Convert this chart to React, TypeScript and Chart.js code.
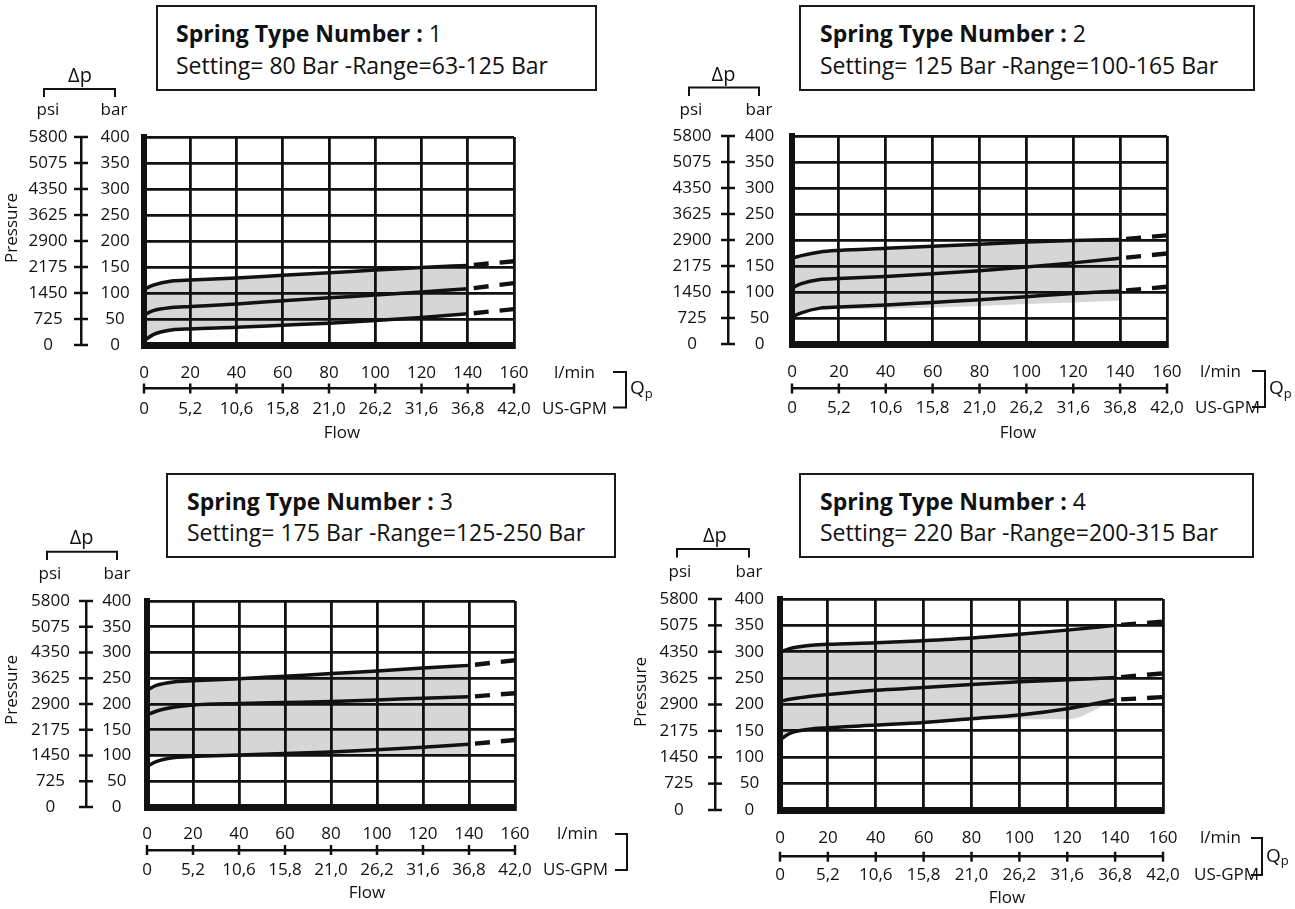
import React, { useEffect, useRef } from 'react';
import { Chart, registerables } from 'chart.js';

Chart.register(...registerables);

const FONT = "'Open Sans', 'DejaVu Sans', sans-serif";
const INK = '#111111';
const BAND = '#d6d6d6';

// ---------------- DATA ----------------
// flow positions (l/min) of the solid curves and of the dashed extensions
const flowSolid = [0, 4, 12, 20, 40, 60, 80, 100, 120, 140];
const flowDashed = [140, 160];

// tick labels
const lpmTicks = ['0', '20', '40', '60', '80', '100', '120', '140', '160'];
const gpmTicks = ['0', '5,2', '10,6', '15,8', '21,0', '26,2', '31,6', '36,8', '42,0'];
const barTicks = ['0', '50', '100', '150', '200', '250', '300', '350', '400'];
const psiTicks = ['0', '725', '1450', '2175', '2900', '3625', '4350', '5075', '5800'];

// other texts
const titleLead = 'Spring Type Number :';
const springNumbers = ['1', '2', '3', '4'];
const springSettings = [
  'Setting= 80 Bar -Range=63-125 Bar',
  'Setting= 125 Bar -Range=100-165 Bar',
  'Setting= 175 Bar -Range=125-250 Bar',
  'Setting= 220 Bar -Range=200-315 Bar',
];
const deltaLabel = 'Δp';
const psiLabel = 'psi';
const barLabel = 'bar';
const lpmLabel = 'l/min';
const gpmLabel = 'US-GPM';
const flowLabel = 'Flow';
const pressureLabel = 'Pressure';

// Spring 1 (bar)
const spring1Upper = [107, 115, 123, 125, 129, 134, 139, 144, 149, 153];
const spring1Middle = [58, 66, 72, 74, 79, 85, 91, 96, 102, 108];
const spring1Lower = [8, 20, 29, 31, 34, 38, 42, 47, 53, 60];
const spring1Floor = [8, 20, 29, 31, 34, 38, 42, 47, 53, 60];
const spring1UpperDash = [153, 161];
const spring1MiddleDash = [108, 119];
const spring1LowerDash = [60, 69];

// Spring 2 (bar)
const spring2Upper = [165, 170, 177, 180, 184, 188, 192, 196, 199, 201];
const spring2Middle = [108, 116, 124, 126, 130, 135, 141, 148, 156, 165];
const spring2Lower = [52, 60, 69, 71, 75, 80, 85, 91, 97, 102];
const spring2Floor = [52, 60, 66, 67, 68, 70, 73, 77, 80, 83];
const spring2UpperDash = [201, 209];
const spring2MiddleDash = [165, 174];
const spring2LowerDash = [102, 110];

// Spring 3 (bar)
const spring3Upper = [227, 236, 243, 245, 249, 254, 259, 264, 270, 275];
const spring3Middle = [179, 186, 194, 198, 201, 203, 205, 208, 211, 214];
const spring3Lower = [79, 88, 96, 98, 101, 104, 107, 111, 116, 122];
const spring3Floor = [100, 100, 100, 100, 100, 100, 100, 100, 100, 100];
const spring3UpperDash = [275, 285];
const spring3MiddleDash = [214, 221];
const spring3LowerDash = [122, 130];

// Spring 4 (bar)
const spring4Upper = [299, 306, 312, 314, 317, 321, 326, 333, 341, 350];
const spring4Middle = [206, 210, 215, 219, 227, 232, 238, 243, 247, 251];
const spring4Lower = [133, 145, 153, 156, 161, 166, 173, 180, 192, 209];
const spring4Floor = [133, 145, 153, 156, 161, 166, 172, 172, 172, 209];
const spring4UpperDash = [350, 357];
const spring4MiddleDash = [251, 259];
const spring4LowerDash = [209, 214];

const springs = [
  { upper: spring1Upper, middle: spring1Middle, lower: spring1Lower, floor: spring1Floor, dashes: [spring1UpperDash, spring1MiddleDash, spring1LowerDash] },
  { upper: spring2Upper, middle: spring2Middle, lower: spring2Lower, floor: spring2Floor, dashes: [spring2UpperDash, spring2MiddleDash, spring2LowerDash] },
  { upper: spring3Upper, middle: spring3Middle, lower: spring3Lower, floor: spring3Floor, dashes: [spring3UpperDash, spring3MiddleDash, spring3LowerDash] },
  { upper: spring4Upper, middle: spring4Middle, lower: spring4Lower, floor: spring4Floor, dashes: [spring4UpperDash, spring4MiddleDash, spring4LowerDash] },
];

// ---------------- LAYOUT (page coordinates) ----------------
const panels = [
  {
    canvas: { left: 0, top: 0, width: 660, height: 460 },
    area: { left: 144, right: 514, top: 137, bottom: 345 },
    psiLineX: 81, psiPad: 13.5, barPad: 14.4,
    x2LineY: 388.5, xPad: 17.5, x2Pad: 10.6,
    header: { dpX: 80, dpY: 76, brL: 44, brR: 115, brY: 89, brB: 97, psiX: 48, barX: 114, unitY: 110 },
    units: { lpmX: 554, lpmY: 372.7, gpmX: 542, gpmY: 409, brL: 613, brR: 626, brT: 372, brB: 407.5, qX: 630, qY: 389 },
    flow: { x: 342, y: 433 }, pressure: { x: 12, y: 228 },
    box: { left: 156, top: 5, width: 441, height: 86, textLeft: 176, line1: 34, line2: 65.7 },
  },
  {
    canvas: { left: 640, top: 0, width: 655, height: 460 },
    area: { left: 792, right: 1167, top: 136, bottom: 344 },
    psiLineX: 728, psiPad: 16.5, barPad: 17.9,
    x2LineY: 388.5, xPad: 17.5, x2Pad: 9.6,
    header: { dpX: 723.5, dpY: 75, brL: 689, brR: 759, brY: 87.5, brB: 96, psiX: 691, barX: 759, unitY: 110 },
    units: { lpmX: 1200, lpmY: 371.7, gpmX: 1195, gpmY: 408.3, brL: 1252, brR: 1265, brT: 371, brB: 407, qX: 1269, qY: 389 },
    flow: { x: 1018, y: 433 }, pressure: null,
    box: { left: 799, top: 5, width: 456, height: 86, textLeft: 820, line1: 33.5, line2: 66 },
  },
  {
    canvas: { left: 0, top: 455, width: 660, height: 454 },
    area: { left: 147, right: 515, top: 601, bottom: 807 },
    psiLineX: 86, psiPad: 16.1, barPad: 15.7,
    x2LineY: 850, xPad: 17, x2Pad: 9.8,
    header: { dpX: 81.6, dpY: 538, brL: 47, brR: 117, brY: 551.7, brB: 560, psiX: 50, barX: 117, unitY: 574 },
    units: { lpmX: 557, lpmY: 834.3, gpmX: 543, gpmY: 870, brL: 615, brR: 627, brT: 834, brB: 870, qX: null, qY: 0 },
    flow: { x: 367, y: 893 }, pressure: { x: 12, y: 690 },
    box: { left: 166, top: 473, width: 450, height: 85, textLeft: 187, line1: 502, line2: 533.3 },
  },
  {
    canvas: { left: 625, top: 455, width: 670, height: 454 },
    area: { left: 780, right: 1163, top: 599, bottom: 810 },
    psiLineX: 715, psiPad: 16.7, barPad: 16,
    x2LineY: 856.7, xPad: 18, x2Pad: 8,
    header: { dpX: 714.8, dpY: 536.7, brL: 677, brR: 749, brY: 549, brB: 557.5, psiX: 680, barX: 749, unitY: 571.7 },
    units: { lpmX: 1200, lpmY: 838.3, gpmX: 1194, gpmY: 875, brL: 1251, brR: 1262, brT: 838, brB: 875, qX: 1266, qY: 856.7 },
    flow: { x: 1007, y: 898 }, pressure: { x: 641, y: 692 },
    box: { left: 799, top: 473, width: 455, height: 85, textLeft: 820, line1: 502, line2: 533 },
  },
];

type PanelCfg = (typeof panels)[number];

const pts = (xs: number[], ys: number[]) => xs.map((x, i) => ({ x, y: ys[i] }));

function makeDecor(p: PanelCfg) {
  return {
    id: 'decor',
    afterDraw(chart: any) {
      const ctx: CanvasRenderingContext2D = chart.ctx;
      const ox = p.canvas.left;
      const oy = p.canvas.top;
      const seg = (x1: number, y1: number, x2: number, y2: number) => {
        ctx.beginPath();
        ctx.moveTo(x1, y1);
        ctx.lineTo(x2, y2);
        ctx.stroke();
      };
      ctx.save();
      ctx.strokeStyle = INK;
      ctx.fillStyle = INK;
      ctx.lineCap = 'butt';
      ctx.lineWidth = 2.5;
      // cross ticks of the psi axis
      const ys = chart.scales.y2;
      const lx = ys.right;
      ys.ticks.forEach((t: any) => {
        const py = ys.getPixelForValue(t.value);
        seg(lx - 7, py, lx + 7, py);
      });
      // cross ticks of the flow axis
      const xs = chart.scales.x2;
      const ly = xs.top;
      xs.ticks.forEach((t: any) => {
        const px = xs.getPixelForValue(t.value);
        seg(px, ly - 5, px, ly + 5);
      });
      // Δp header with bracket
      const h = p.header;
      ctx.lineWidth = 2;
      ctx.beginPath();
      ctx.moveTo(h.brL - ox, h.brB - oy);
      ctx.lineTo(h.brL - ox, h.brY - oy);
      ctx.lineTo(h.brR - ox, h.brY - oy);
      ctx.lineTo(h.brR - ox, h.brB - oy);
      ctx.stroke();
      ctx.textAlign = 'center';
      ctx.textBaseline = 'middle';
      ctx.font = `20px ${FONT}`;
      ctx.fillText(deltaLabel, h.dpX - ox, h.dpY - oy);
      ctx.font = `17px ${FONT}`;
      ctx.fillText(psiLabel, h.psiX - ox, h.unitY - oy);
      ctx.fillText(barLabel, h.barX - ox, h.unitY - oy);
      // unit labels and Qp bracket
      const u = p.units;
      ctx.textAlign = 'left';
      ctx.fillText(lpmLabel, u.lpmX - ox, u.lpmY - oy);
      ctx.fillText(gpmLabel, u.gpmX - ox, u.gpmY - oy);
      ctx.beginPath();
      ctx.moveTo(u.brL - ox, u.brT - oy);
      ctx.lineTo(u.brR - ox, u.brT - oy);
      ctx.lineTo(u.brR - ox, u.brB - oy);
      ctx.lineTo(u.brL - ox, u.brB - oy);
      ctx.stroke();
      if (u.qX !== null) {
        ctx.font = `19px ${FONT}`;
        ctx.fillText('Q', u.qX - ox, u.qY - oy);
        const qw = ctx.measureText('Q').width;
        ctx.font = `13px ${FONT}`;
        ctx.fillText('p', u.qX - ox + qw, u.qY - oy + 5);
      }
      // Flow title
      ctx.font = `17px ${FONT}`;
      ctx.textAlign = 'center';
      ctx.fillText(flowLabel, p.flow.x - ox, p.flow.y - oy);
      // Pressure title
      if (p.pressure) {
        ctx.save();
        ctx.translate(p.pressure.x - ox, p.pressure.y - oy);
        ctx.rotate(-Math.PI / 2);
        ctx.fillText(pressureLabel, 0, 0);
        ctx.restore();
      }
      ctx.restore();
    },
  };
}

function makeConfig(idx: number): any {
  const p = panels[idx];
  const s = springs[idx];
  const solid = (ys: number[]) => ({
    data: pts(flowSolid, ys),
    borderColor: INK,
    borderWidth: 3.5,
    pointRadius: 0,
    fill: false,
    cubicInterpolationMode: 'monotone',
  });
  const dashed = (ys: number[]) => ({
    data: pts(flowDashed, ys),
    borderColor: INK,
    borderWidth: 4.4,
    borderDash: [15, 11],
    borderDashOffset: 20,
    pointRadius: 0,
    fill: false,
  });
  const datasets: any[] = [
    {
      data: pts(flowSolid, s.floor),
      borderColor: 'rgba(0,0,0,0)',
      borderWidth: 1,
      pointRadius: 0,
      fill: false,
      cubicInterpolationMode: 'monotone',
    },
    { ...solid(s.upper), fill: '-1', backgroundColor: BAND },
    solid(s.middle),
    solid(s.lower),
    dashed(s.dashes[0]),
    dashed(s.dashes[1]),
    dashed(s.dashes[2]),
  ];
  const tickFont = { family: FONT, size: 17 };
  return {
    type: 'line',
    data: { datasets },
    options: {
      animation: false,
      responsive: false,
      devicePixelRatio: 1,
      events: [],
      layout: {
        padding: {
          left: 0,
          top: p.area.top - p.canvas.top,
          right: p.canvas.left + p.canvas.width - p.area.right,
          bottom: 0,
        },
      },
      plugins: {
        legend: { display: false },
        tooltip: { enabled: false },
        title: { display: false },
        filler: { drawTime: 'beforeDatasetsDraw' },
      },
      scales: {
        x: {
          type: 'linear', position: 'bottom', weight: 0, min: 0, max: 160,
          ticks: {
            stepSize: 20, autoSkip: false, maxRotation: 0, padding: p.xPad,
            font: tickFont, color: INK,
            callback: (_v: any, i: number) => lpmTicks[i],
          },
          grid: { color: INK, lineWidth: 2.8, drawTicks: false, z: 1 },
          border: { display: true, color: INK, width: 7, z: 1 },
          afterFit: (sc: any) => { sc.height = p.x2LineY - p.area.bottom; },
        },
        x2: {
          type: 'linear', position: 'bottom', weight: 1, min: 0, max: 160,
          ticks: {
            stepSize: 20, autoSkip: false, maxRotation: 0, padding: p.x2Pad,
            font: tickFont, color: INK,
            callback: (_v: any, i: number) => gpmTicks[i],
          },
          grid: { display: true, drawOnChartArea: false, drawTicks: false },
          border: { display: true, color: INK, width: 2.5 },
          afterFit: (sc: any) => { sc.height = p.canvas.top + p.canvas.height - p.x2LineY; },
        },
        y: {
          type: 'linear', position: 'left', weight: 0, min: 0, max: 400,
          ticks: {
            stepSize: 50, autoSkip: false, padding: p.barPad, crossAlign: 'center',
            font: tickFont, color: INK,
            callback: (_v: any, i: number) => barTicks[i],
          },
          grid: { color: INK, lineWidth: 2.8, drawTicks: false, z: 1 },
          border: { display: true, color: INK, width: 6, z: 1 },
          afterFit: (sc: any) => { sc.width = p.area.left - p.psiLineX; },
        },
        y2: {
          type: 'linear', position: 'left', weight: 1, min: 0, max: 5800,
          ticks: {
            stepSize: 725, autoSkip: false, padding: p.psiPad, crossAlign: 'center',
            font: tickFont, color: INK,
            callback: (_v: any, i: number) => psiTicks[i],
          },
          grid: { display: true, drawOnChartArea: false, drawTicks: false },
          border: { display: true, color: INK, width: 2.5 },
          afterFit: (sc: any) => { sc.width = p.psiLineX - p.canvas.left; },
        },
      },
    },
    plugins: [makeDecor(p)],
  };
}

function SpringChart({ idx }: { idx: number }) {
  const ref = useRef<HTMLCanvasElement | null>(null);
  const p = panels[idx];
  useEffect(() => {
    if (!ref.current) return;
    const chart = new Chart(ref.current, makeConfig(idx));
    return () => chart.destroy();
  }, [idx]);
  return (
    <canvas
      ref={ref}
      width={p.canvas.width}
      height={p.canvas.height}
      style={{ position: 'absolute', left: p.canvas.left, top: p.canvas.top, width: p.canvas.width, height: p.canvas.height }}
    />
  );
}

function TitleBox({ idx }: { idx: number }) {
  const b = panels[idx].box;
  const textStyle: React.CSSProperties = {
    position: 'absolute',
    left: b.textLeft,
    fontFamily: FONT,
    fontSize: 23,
    lineHeight: '30px',
    whiteSpace: 'nowrap',
    color: INK,
  };
  return (
    <>
      <div
        style={{
          position: 'absolute', left: b.left, top: b.top, width: b.width, height: b.height,
          border: '2px solid #1a1a1a', boxSizing: 'border-box', background: '#fff',
        }}
      />
      <div style={{ ...textStyle, top: b.line1 - 16 }}>
        <span style={{ fontWeight: 700 }}>{titleLead}</span> {springNumbers[idx]}
      </div>
      <div style={{ ...textStyle, top: b.line2 - 16 }}>{springSettings[idx]}</div>
    </>
  );
}

export default function App() {
  return (
    <div style={{ position: 'fixed', left: 0, top: 0, width: 1295, height: 909, background: '#fff', overflow: 'hidden' }}>
      {panels.map((_, i) => (
        <SpringChart key={'c' + i} idx={i} />
      ))}
      {panels.map((_, i) => (
        <TitleBox key={'t' + i} idx={i} />
      ))}
    </div>
  );
}
